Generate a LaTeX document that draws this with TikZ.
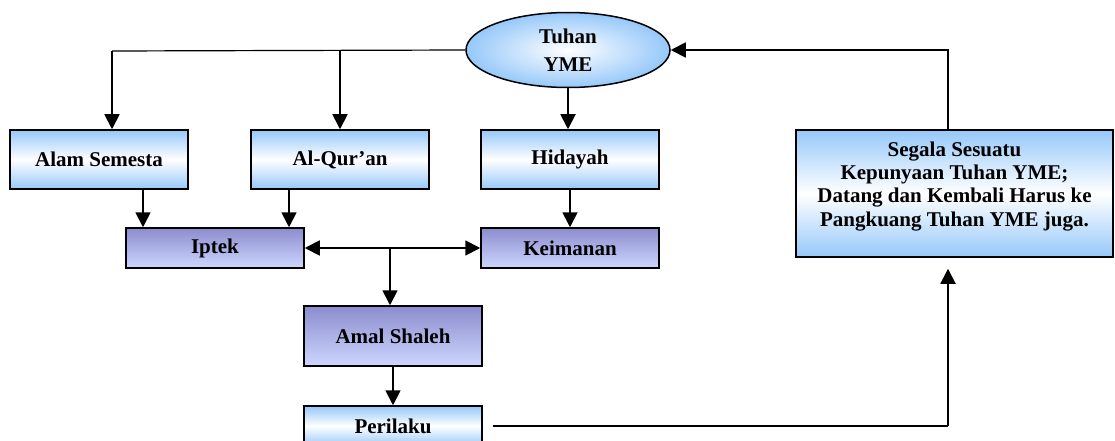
\documentclass[tikz,border=0pt]{standalone}
\usepackage{fontspec}
\setmainfont{Liberation Serif}
\usepackage{tikz}
\usetikzlibrary{arrows.meta}
\usetikzlibrary{shapes.geometric}

\definecolor{boxblue}{RGB}{150,200,250}
\definecolor{lavtop}{RGB}{140,140,205}
\definecolor{lavbot}{RGB}{205,215,255}

\tikzset{
  bluebox/.style={draw, line width=1.5pt, rectangle, minimum width=178pt, top color=boxblue, bottom color=boxblue, middle color=white, align=center},
  lavbox/.style={draw, line width=1.5pt, rectangle, minimum width=178pt, minimum height=40pt, top color=lavtop, bottom color=lavbot, align=center},
  arr/.style={line width=1.8pt, -{Triangle[length=15pt,width=15pt]}},
  thinline/.style={line width=1.2pt}
}

\begin{document}
\begin{tikzpicture}[x=1pt, y=-1pt, font=\fontsize{21}{23.3}\selectfont\bfseries]
        \useasboundingbox (0,0) rectangle (1115,441);

        \node[draw, line width=1.5pt, ellipse, minimum width=204pt, minimum height=75pt, inner color=white, outer color=boxblue, align=center] (tuhan) at (568,50) {Tuhan\\[5pt]YME};

        \node[bluebox, minimum height=59pt] (alam) at (99,159.5) {Alam Semesta};
        \node[bluebox, minimum height=59pt] (quran) at (340,159.5) {Al-Qur'an};
        \node[bluebox, minimum height=59pt] (hidayah) at (570,159.5) {Hidayah};
        \node[lavbox] (iptek) at (215,248) {Iptek};
        \node[lavbox] (keimanan) at (570,248) {Keimanan};
        \node[lavbox, minimum height=60pt] (amal) at (393,336) {Amal Shaleh};
        \node[bluebox, minimum height=40pt] (perilaku) at (393,426) {Perilaku};
        \node[bluebox, minimum width=317pt, minimum height=127pt] (segala) at (954.5,193.5) {Segala Sesuatu\\Kepunyaan Tuhan YME;\\Datang dan Kembali Harus ke\\Pangkuang Tuhan YME juga.\\[-4pt]\mbox{}};

        \coordinate (kiri) at (112,51);
        \coordinate (bawah) at (948,426);

        \draw[thinline] (tuhan.west) -- (kiri);
        \draw[arr] (kiri) -- (kiri |- alam.north);
        \draw[arr] (quran.north |- kiri) -- (quran.north);
        \draw[arr] (tuhan.south) -- (tuhan.south |- hidayah.north);

        \draw[arr] ([xshift=44pt]alam.south) -- ([xshift=44pt]alam.south |- iptek.north);
        \draw[arr] ([xshift=-51pt]quran.south) -- ([xshift=-51pt]quran.south |- iptek.north);
        \draw[arr] (hidayah.south) -- (hidayah.south |- keimanan.north);

        \draw[line width=1.8pt, {Triangle[length=15pt,width=15pt]}-{Triangle[length=15pt,width=15pt]}] (iptek.east) -- (keimanan.west);
        \draw[arr] ([xshift=-3pt]amal.north |- iptek.east) -- ([xshift=-3pt]amal.north);
        \draw[arr] (amal.south) -- (perilaku.north);

        \draw[line width=1.3pt] ([xshift=10pt]perilaku.east) -- (bawah);
        \draw[arr] (bawah) -- ([yshift=-11pt]bawah |- segala.south);
        \draw[arr] ([xshift=-6.5pt]segala.north) |- (tuhan.east);
    \end{tikzpicture}
\end{document}
